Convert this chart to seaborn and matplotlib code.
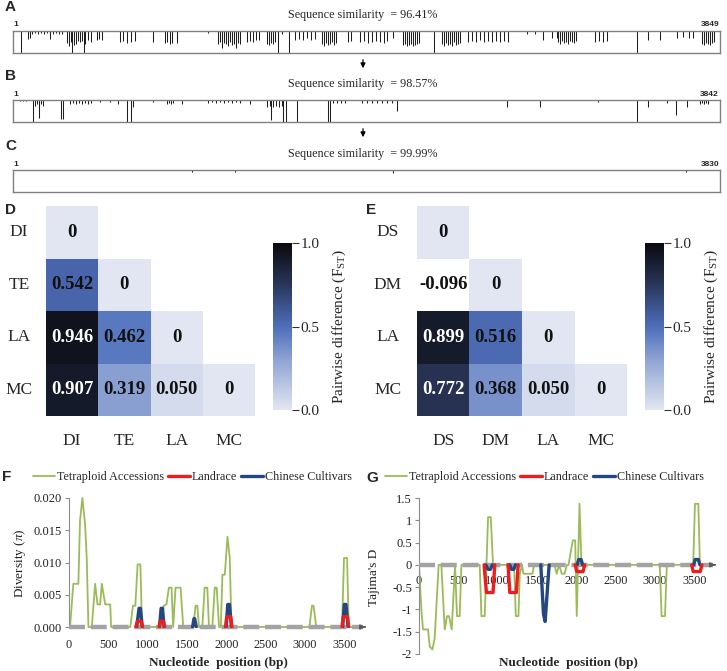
import numpy as np
import pandas as pd
import matplotlib
matplotlib.use("Agg")
import matplotlib.pyplot as plt
import seaborn as sns
from matplotlib.colors import LinearSegmentedColormap
from matplotlib.lines import Line2D
from matplotlib.patches import FancyArrowPatch
from matplotlib.ticker import FuncFormatter

# ---------------- data ----------------
track_names = ["A", "B", "C"]
track_lengths = [3849, 3842, 3830]
track_similarity = ["96.41%", "98.57%", "99.99%"]

trackA_pos = [
    44, 83, 94,
    105, 121, 138, 154, 170, 187, 203, 219, 236, 252, 268,
    295, 306, 317, 324, 333, 344, 355,
    366, 377, 390, 393, 410, 426,
    459, 470, 486,
    584, 601, 622, 644, 666, 763,
    829, 840, 856, 867, 894, 1063,
    1117, 1128, 1139, 1150, 1161, 1172, 1183, 1193, 1204, 1215, 1226, 1237,
    1275, 1291, 1308, 1324, 1341,
    1384, 1395, 1406, 1417, 1428, 1445, 1465, 1505,
    1536, 1558, 1580, 1601, 1623, 1645,
    1683, 1694, 1705, 1716, 1727, 1738, 1749, 1760,
    1825, 1841,
    1890, 1912, 1934, 1955, 1977, 1999, 2021, 2037, 2069,
    2124, 2135, 2146, 2157, 2168, 2178, 2189, 2200, 2211,
    2293,
    2336, 2347, 2358, 2369, 2380, 2391, 2402, 2413, 2424, 2434,
    2478, 2500, 2521, 2543, 2565, 2587,
    2608, 2630, 2652, 2674, 2695,
    2798, 2842, 2886, 2935, 2962,
    2967, 2978, 2989, 3000, 3011, 3022, 3033, 3043, 3054, 3065,
    3168, 3190, 3211, 3233,
    3397, 3457, 3522,
    3614, 3647, 3679, 3701,
    3751, 3761, 3772, 3783, 3794, 3805, 3816,
]
trackA_depth = [
    1.0, 0.35, 0.3,
    0.12, 0.1, 0.12, 0.1, 0.12, 0.1, 0.35, 0.12, 0.1, 0.12, 0.15,
    0.55, 0.7, 0.5, 1.0, 0.65, 0.6, 0.45,
    0.5, 0.45, 1.0, 0.6, 0.4, 0.5,
    0.4, 0.35, 0.4,
    0.5, 0.45, 0.55, 0.5, 0.45, 0.5,
    0.55, 0.5, 0.6, 0.55, 0.55, 0.1,
    0.6, 0.5, 0.75, 0.55, 0.6, 0.7, 0.5, 0.65, 0.6, 0.75, 0.55, 0.6,
    0.5, 0.45, 0.5, 0.4, 0.4,
    0.6, 0.65, 0.55, 0.6, 0.5, 1.0, 0.15, 1.0,
    0.4, 0.35, 0.4, 0.3, 0.4, 0.35,
    0.6, 0.7, 0.55, 0.65, 0.6, 0.5, 0.65, 0.55,
    0.5, 0.45,
    0.5, 0.45, 0.55, 0.5, 0.45, 0.5, 0.55, 0.45, 0.3,
    0.65, 0.6, 0.7, 0.65, 0.6, 0.7, 0.65, 0.6, 0.55,
    1.0,
    0.6, 0.7, 0.55, 0.65, 0.6, 0.7, 0.5, 0.65, 0.6, 0.55,
    0.5, 0.45, 0.5, 0.4, 0.5, 0.45,
    0.5, 0.45, 0.5, 0.45, 0.5,
    0.15, 0.15, 0.4, 0.3, 0.3,
    0.5, 0.6, 0.45, 0.55, 0.5, 0.6, 0.45, 0.5, 0.55, 0.45,
    0.5, 0.45, 0.5, 0.45,
    1.0, 0.4, 0.4,
    0.3, 0.25, 0.3, 0.3,
    0.6, 0.65, 0.55, 0.6, 0.65, 0.55, 0.5,
]

trackB_pos = [
    40, 56, 72,
    112, 121, 132, 143, 145, 154, 165,
    262, 272,
    311, 328, 344, 360, 377, 393, 409, 425,
    474, 529, 572, 619, 643, 654, 762,
    839, 850, 860, 871, 920,
    1061, 1083, 1104, 1126, 1148, 1170, 1191, 1213, 1235, 1289,
    1382, 1398, 1403, 1415, 1431, 1447, 1463, 1468, 1485, 1544,
    1713, 1724, 1740, 1762, 1784, 1805,
    1897, 1925, 1952, 1979, 2006, 2033, 2060, 2088,
    2685, 2864, 3180, 3391, 3451, 3554, 3603, 3663,
    3734, 3745, 3756, 3767, 3777,
]
trackB_depth = [
    0.05, 0.05, 0.05,
    1.0, 0.25, 0.2, 0.25, 0.8, 0.2, 0.25,
    0.85, 0.85,
    0.2, 0.15, 0.2, 0.15, 0.2, 0.15, 0.2, 0.15,
    0.08, 0.08, 0.2, 1.0, 1.0, 0.3, 0.08,
    0.2, 0.15, 0.2, 0.15, 0.2,
    0.15, 0.1, 0.15, 0.1, 0.15, 0.1, 0.15, 0.1, 0.15, 0.2,
    0.3, 0.25, 0.9, 0.3, 0.25, 0.3, 0.25, 1.0, 1.0, 1.0,
    1.0, 1.0, 0.15, 0.12, 0.15, 0.12,
    0.15, 0.12, 0.15, 0.12, 0.15, 0.12, 0.15, 0.5,
    0.3, 0.3, 0.1, 1.0, 0.3, 0.12, 0.7, 0.3,
    0.2, 0.15, 0.2, 0.15, 0.2,
]

trackC_pos = [974, 1207, 2061, 3648]
trackC_depth = [0.1, 0.1, 0.12, 0.1]

nan = np.nan
D_labels = ["DI", "TE", "LA", "MC"]
D_fst = [[0, nan, nan, nan],
         [0.542, 0, nan, nan],
         [0.946, 0.462, 0, nan],
         [0.907, 0.319, 0.050, 0]]
E_labels = ["DS", "DM", "LA", "MC"]
E_fst = [[0, nan, nan, nan],
         [-0.096, 0, nan, nan],
         [0.899, 0.516, 0, nan],
         [0.772, 0.368, 0.050, 0]]

series_names = ["Tetraploid Accessions", "Landrace", "Chinese Cultivars"]
pos_ticks = [0, 500, 1000, 1500, 2000, 2500, 3000, 3500]

# Panel F: nucleotide diversity (pi)
F_tetra_pos = [0, 13, 55, 119, 140, 170, 204, 226, 247,
               290, 332, 362, 396, 417, 460, 481, 524, 535,
               779, 813, 843, 872, 907, 928,
               1162, 1205, 1239, 1269, 1303, 1324, 1354, 1418, 1452,
               1579, 1609, 1631, 1652,
               1694, 1724, 1758, 1779,
               1822, 1852, 1877, 1907,
               1929, 1950, 1980, 2014, 2043, 2065,
               3056, 3087, 3108, 3142,
               3470, 3495, 3534, 3555, 3760]
F_tetra_val = [0, 0, 0.0067, 0.0067, 0.0165, 0.020, 0.016, 0.0105, 0,
               0, 0.0067, 0.0035, 0.0035, 0.0067, 0.0035, 0.0035, 0.0035, 0,
               0, 0.0033, 0.0033, 0.0097, 0.0097, 0,
               0, 0.0033, 0.0035, 0.0061, 0.0061, 0, 0.0061, 0.0061, 0,
               0, 0.0033, 0.0033, 0,
               0, 0.0061, 0.0061, 0,
               0, 0.0061, 0.0061, 0,
               0, 0.0081, 0.0081, 0.014, 0.0107, 0,
               0, 0.0033, 0.0033, 0,
               0, 0.0107, 0.0107, 0, 0]
F_land_pos = [[850, 870, 915, 935], [1145, 1160, 1200, 1215],
              [1990, 2005, 2055, 2070], [3470, 3485, 3540, 3555]]
F_land_val = [[0, 0.0009, 0.0009, 0], [0, 0.0009, 0.0009, 0],
              [0, 0.0016, 0.0016, 0], [0, 0.0016, 0.0016, 0]]
F_chin_pos = [[860, 890, 907, 932], [1150, 1171, 1188, 1209], [1571, 1588, 1597, 1618],
              [1997, 2018, 2039, 2065], [3478, 3499, 3520, 3546]]
F_chin_val = [[0, 0.0029, 0.0029, 0], [0, 0.0029, 0.0029, 0], [0, 0.0013, 0.0013, 0],
              [0, 0.0035, 0.0035, 0], [0, 0.0035, 0.0035, 0]]

# Panel G: Tajima's D
G_tetra_pos = [0, 30, 51, 115, 136, 170, 199, 250, 284, 327,
               356, 382, 416, 458, 483, 517, 539, 772, 793, 835,
               878, 912, 941, 1209, 1230, 1264, 1281, 1310, 1327, 1442,
               1463, 1720, 1750, 1780, 1815, 1850, 1880, 1900, 1955, 1985,
               2005, 2040, 2065, 3060, 3083, 3126, 3150, 3485, 3507, 3550,
               3570, 3760]
G_tetra_val = [0, -1.0, -1.45, -1.45, -1.83, -1.9, -1.65, 0, 0, -1.45,
               -1.15, -1.15, -1.45, 0, -1.15, -1.15, 0, 0, -1.15, -1.15,
               1.07, 1.07, 0, 0, -1.15, -1.15, -0.2, 0, -0.2, -0.2,
               0, 0, -0.2, 0, -0.2, -0.2, 0, 0, 0.55, 0.55,
               -1.15, 1.37, 0, 0, -1.15, -1.15, 0, 0, 1.37, 1.37,
               0, 0]
G_land_pos = [[827, 857, 941, 963], [1132, 1154, 1238, 1260],
              [1985, 2005, 2085, 2105], [3465, 3485, 3575, 3595]]
G_land_val = [[0, -0.62, -0.62, 0], [0, -0.62, -0.62, 0],
              [0, -0.15, -0.15, 0], [0, -0.15, -0.15, 0]]
G_chin_pos = [[848, 878, 908, 933], [1154, 1175, 1204, 1226], [1548, 1582, 1603, 1654],
              [2010, 2030, 2060, 2080], [3490, 3510, 3550, 3570]]
G_chin_val = [[0, -0.1, -0.1, 0], [0, -0.1, -0.1, 0], [0, -1.1, -1.27, 0],
              [0, 0.12, 0.12, 0], [0, 0.12, 0.12, 0]]

# ---------------- style ----------------
sns.set_style("white")
plt.rcParams["font.family"] = ["Liberation Serif", "DejaVu Serif"]
plt.rcParams["mathtext.fontset"] = "custom"
plt.rcParams["mathtext.rm"] = "Liberation Serif"
plt.rcParams["mathtext.it"] = "Liberation Serif:italic"

GREEN, RED, BLUE = "#9bbb59", "#ee1c1c", "#24477f"
SANS = ["Liberation Sans", "DejaVu Sans"]

W, H = 727, 671
fig = plt.figure(figsize=(W / 100, H / 100), dpi=100)


def rect(x0, y0, x1, y1):
    return [x0 / W, 1 - y1 / H, (x1 - x0) / W, (y1 - y0) / H]


def fx(x):
    return x / W


def fy(y):
    return 1 - y / H


def letter(x, y, s):
    fig.text(fx(x), fy(y), s, family=SANS, fontweight="bold", fontsize=11,
             ha="left", va="center")


def arrow(x, y0, y1):
    fig.patches.append(FancyArrowPatch((fx(x), fy(y0)), (fx(x), fy(y1)),
                                       transform=fig.transFigure, arrowstyle="-|>",
                                       mutation_scale=7, color="black", lw=0.9))


# ---------------- A / B / C tracks ----------------
tracks = [(trackA_pos, trackA_depth), (trackB_pos, trackB_depth), (trackC_pos, trackC_depth)]
box_tops = [31, 100, 170]
for i, (pos, dep) in enumerate(tracks):
    top = box_tops[i]
    ax = fig.add_axes(rect(12.7, top, 720, top + 22))
    ax.vlines(pos, 0, dep, color="#1e1e1e", lw=0.75)
    ax.set_xlim(1, track_lengths[i])
    ax.set_ylim(1, 0)
    ax.set_xticks([])
    ax.set_yticks([])
    for s in ax.spines.values():
        s.set_visible(True)
        s.set_color("#808080")
        s.set_linewidth(1.0)
    letter(5, top - 24, track_names[i])
    fig.text(fx(363), fy(top - 16), f"Sequence similarity  = {track_similarity[i]}",
             ha="center", va="center", fontsize=8.7)
    fig.text(fx(13), fy(top - 6), "1", ha="left", va="center", fontsize=6,
             fontweight="bold", family=SANS)
    fig.text(fx(719), fy(top - 6), str(track_lengths[i]), ha="right", va="center",
             fontsize=6, fontweight="bold", family=SANS)

arrow(363, 57, 71)
arrow(363, 126, 140)

# ---------------- D / E heatmaps ----------------
cmap = LinearSegmentedColormap.from_list(
    "fst", [(0.0, "#e1e6f2"), (0.3, "#8fa3d3"), (0.48, "#5273bd"), (0.55, "#4763a8"),
            (0.78, "#263050"), (1.0, "#0a0a0f")])
cmap.set_under("white")


def draw_heat(axr, caxr, labels, values, ylab_center):
    ax = fig.add_axes(rect(*axr))
    cax = fig.add_axes(rect(*caxr))
    arr = np.array(values, dtype=float)
    mask = np.triu(np.ones_like(arr, dtype=bool), k=1)
    df = pd.DataFrame(arr, index=labels, columns=labels)
    sns.heatmap(df, mask=mask, cmap=cmap, vmin=0, vmax=1, annot=False,
                cbar_ax=cax, ax=ax, cbar_kws=dict(ticks=[0, 0.5, 1.0]))
    for r, row in enumerate(arr):
        for c, v in enumerate(row):
            if np.isnan(v):
                continue
            txt = "0" if v == 0 else f"{v:.3f}"
            ax.text(c + 0.5, r + 0.5, txt, ha="center", va="center", fontsize=13.5,
                    fontweight="bold", color="white" if v > 0.7 else "#111111")
    ax.set_xlabel("")
    ax.set_ylabel("")
    ax.set_yticklabels(labels, rotation=0, ha="center", fontsize=12.5)
    ax.set_xticklabels(labels, rotation=0, fontsize=12.5)
    pad_px = axr[0] - ylab_center
    ax.tick_params(axis="y", length=0, pad=pad_px * 0.72)
    ax.tick_params(axis="x", length=0, pad=12)
    cb = ax.collections[0].colorbar
    cb.outline.set_visible(False)
    cb.set_ticks([0, 0.5, 1.0])
    cb.set_ticklabels(["0.0", "0.5", "1.0"])
    cax.tick_params(right=True, length=5, width=0.8, color="#333333", labelsize=11, pad=1)
    cb.set_label("Pairwise difference (F$_{\\mathrm{ST}}$)", fontsize=11, labelpad=8)


draw_heat((46, 206, 255, 416), (273, 243, 292, 410), D_labels, D_fst, 19)
draw_heat((417, 206, 627, 416), (645, 243, 664, 410), E_labels, E_fst, 388)
letter(5, 210, "D")
letter(366, 210, "E")


# ---------------- F / G line charts ----------------
def seg_frame(pos_list, val_list):
    rows = []
    for k, (ps, vs) in enumerate(zip(pos_list, val_list)):
        for p, v in zip(ps, vs):
            rows.append((k, p, v))
    return pd.DataFrame(rows, columns=["seg", "pos", "val"])


def line_panel(axr, tetra_pos, tetra_val, land_pos, land_val, chin_pos, chin_val, ylim):
    ax = fig.add_axes(rect(*axr))
    sns.lineplot(data=pd.DataFrame({"pos": tetra_pos, "val": tetra_val}), x="pos", y="val",
                 ax=ax, color=GREEN, lw=1.3, sort=False, estimator=None, zorder=2)
    ax.axhline(0, xmin=0, xmax=3735 / 3800, color="#a3a3a3", lw=3.2, dashes=(3.6, 1.3),
               zorder=3, clip_on=False)
    ax.annotate("", xy=(3800, 0), xytext=(3725, 0), annotation_clip=False,
                arrowprops=dict(arrowstyle="-|>", color="#5a5a5a", lw=1.0, mutation_scale=7))
    sns.lineplot(data=seg_frame(chin_pos, chin_val), x="pos", y="val", units="seg",
                 estimator=None, sort=False, ax=ax, color=BLUE, lw=2.4, zorder=4)
    sns.lineplot(data=seg_frame(land_pos, land_val), x="pos", y="val", units="seg",
                 estimator=None, sort=False, ax=ax, color=RED, lw=2.4, zorder=5)
    ax.set_xlim(0, 3800)
    ax.set_ylim(*ylim)
    ax.set_xlabel("")
    ax.set_ylabel("")
    for side in ["top", "right", "bottom"]:
        ax.spines[side].set_visible(False)
    ax.spines["left"].set_color("#8c8c8c")
    ax.spines["left"].set_linewidth(0.8)
    ax.set_xticks(pos_ticks)
    ax.set_xticklabels([str(p) for p in pos_ticks])
    ax.tick_params(axis="y", left=True, length=3, width=0.8, color="#8c8c8c",
                   labelsize=9, pad=2, labelcolor="#222222")
    ax.tick_params(axis="x", bottom=False, length=0, labelsize=8.8, labelcolor="#222222")
    handles = [Line2D([0], [0], color=GREEN, lw=1.3), Line2D([0], [0], color=RED, lw=2.4),
               Line2D([0], [0], color=BLUE, lw=2.4)]
    return ax, handles


axF, hF = line_panel((69, 496.7, 368, 628.3), F_tetra_pos, F_tetra_val, F_land_pos, F_land_val,
                     F_chin_pos, F_chin_val, (-0.0002, 0.0202))
axF.spines["left"].set_bounds(0, 0.020)
axF.set_yticks([0, 0.005, 0.010, 0.015, 0.020])
axF.yaxis.set_major_formatter(FuncFormatter(lambda v, p: f"{v:.3f}"))
axF.tick_params(axis="x", pad=8)

axG, hG = line_panel((419, 498, 718, 654), G_tetra_pos, G_tetra_val, G_land_pos, G_land_val,
                     G_chin_pos, G_chin_val, (-2, 1.5))
axG.set_yticks([-2, -1.5, -1, -0.5, 0, 0.5, 1, 1.5])
axG.yaxis.set_major_formatter(FuncFormatter(lambda v, p: f"{v:g}"))
axG.spines["bottom"].set_position(("data", 0))
axG.tick_params(axis="x", pad=7)

for h, x0 in ((hF, 33), (hG, 385)):
    fig.legend(h, series_names, loc="center left", bbox_to_anchor=(fx(x0), fy(477)),
               bbox_transform=fig.transFigure, ncol=3, frameon=False, fontsize=8.7,
               handlelength=1.8, handletextpad=0.15, columnspacing=0.35,
               borderpad=0, borderaxespad=0)

letter(2, 477, "F")
letter(366, 478, "G")
fig.text(fx(218), fy(663), "Nucleotide  position (bp)", ha="center", va="center",
         fontsize=9.5, fontweight="bold")
fig.text(fx(568), fy(663), "Nucleotide  position (bp)", ha="center", va="center",
         fontsize=9.5, fontweight="bold")
fig.text(fx(20), fy(563), "Diversity ($\\pi$)", rotation=90, ha="center", va="center",
         fontsize=9.5, color="#222222")
fig.text(fx(374), fy(577), "Tajima's D", rotation=90, ha="center", va="center",
         fontsize=9.5, color="#222222")

fig.savefig("out.png", dpi=100)
